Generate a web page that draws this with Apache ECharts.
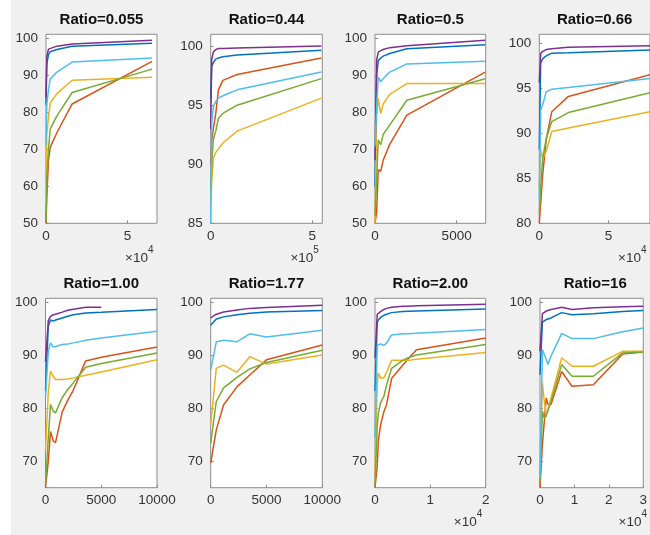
<!DOCTYPE html>
<html><head><meta charset="utf-8">
<script src="https://cdn.jsdelivr.net/npm/echarts@6/dist/echarts.min.js"></script>
<style>
html,body{margin:0;padding:0;background:#fff;}
#c{width:650px;height:535px;background:linear-gradient(to right,#fff 0,#fff 11px,#f0f0f0 11px);}
</style></head><body><div id="c"></div>
<script>
const titles = ['Ratio=0.055','Ratio=0.44','Ratio=0.5','Ratio=0.66','Ratio=1.00','Ratio=1.77','Ratio=2.00','Ratio=16'];

// Panel 1: Ratio=0.055
const x_p1 = [0, 500, 1500, 2600, 6700, 16000, 65000];
const blue_p1 = [82, 93, 95.5, 96.3, 96.9, 97.8, 98.6];
const red_p1 = [50, 57, 67, 70.5, 74.5, 82.2, 93.7];
const yellow_p1 = [61, 74, 78.5, 82.5, 85, 88.6, 89.4];
const purple_p1 = [84, 95, 97, 97.3, 97.8, 98.4, 99.4];
const green_p1 = [50.5, 62, 70, 75.5, 79, 85.3, 91.6];
const cyan_p1 = [71, 82, 86, 89, 90.8, 93.5, 94.6];

// Panel 2: Ratio=0.44
const x_p2 = [0, 5000, 13000, 25000, 38000, 60000, 130000, 545000];
const blue_p2 = [95.5, 98.3, 98.6, 98.9, 99.0, 99.1, 99.25, 99.66];
const red_p2 = [90, 92, 93, 94.3, 96.3, 97.1, 97.6, 99];
const yellow_p2 = [86.5, 88.5, 90.5, 91, 91.3, 91.8, 92.8, 95.6];
const purple_p2 = [93, 98.9, 99.5, 99.7, 99.8, 99.8, 99.85, 100];
const green_p2 = [87.5, 90, 92.1, 92.8, 93.9, 94.3, 95, 97.25];
const cyan_p2 = [85, 93.5, 94.9, 95.3, 95.6, 95.8, 96.3, 97.8];

// Panel 3: Ratio=0.5
const x_p3 = [0, 100, 200, 350, 500, 900, 1950, 6750];
const blue_p3 = [60, 90, 93.9, 94.6, 95.1, 95.8, 97.1, 98.2];
const red_p3 = [50, 53, 64.5, 64, 67, 71.3, 79.2, 90.8];
const yellow_p3 = [50, 78.8, 83.7, 79.6, 82.2, 84.8, 87.7, 87.7];
const purple_p3 = [67, 94, 96.2, 96.6, 96.9, 97.4, 97.9, 99.4];
const green_p3 = [52, 62, 72.5, 71.2, 74, 76.5, 83.2, 89];
const cyan_p3 = [70.7, 81.4, 89.5, 88.2, 89, 90.8, 93, 93.7];

// Panel 4: Ratio=0.66
const x_p4 = [0, 1000, 2500, 5000, 9000, 21000, 80000];
const blue_p4 = [88.2, 97.8, 98.3, 98.6, 98.9, 98.95, 99.26];
const red_p4 = [80, 80.2, 85.5, 89.3, 92.4, 94.1, 96.5];
const yellow_p4 = [84, 88.2, 87.2, 88, 90.2, 90.6, 92.4];
const purple_p4 = [95.6, 98.9, 99.1, 99.3, 99.4, 99.56, 99.74];
const green_p4 = [81, 84, 87.3, 89.4, 91.3, 92.3, 94.5];
const cyan_p4 = [82.7, 92.6, 93.2, 94.6, 94.9, 95.1, 96.1];

// Panel 5: Ratio=1.00
const x_p5 = [0, 250, 450, 700, 900, 1500, 2000, 2500, 3600, 5000, 10000];
const blue_p5 = [83.2, 95.4, 96.6, 96.4, 96.6, 97, 97.3, 97.6, 97.95, 98.05, 98.6];
const red_p5 = [65, 70, 75.6, 73.8, 73.5, 79.3, 81.5, 83.4, 88.9, 89.6, 91.5];
const yellow_p5 = [71.9, 83, 87, 86, 85.4, 85.4, 85.5, 85.7, 86.2, 86.8, 89.1];
const purple_p5 = [88.8, 96.5, 97.3, 97.6, 97.7, 98.1, 98.45, 98.65, 99, 99];
const green_p5 = [65.6, 74.4, 80.7, 79.4, 79.1, 82, 83.5, 84.8, 87.7, 88.4, 90.4];
const cyan_p5 = [81.9, 90.7, 92.3, 91.5, 91.6, 92, 92.1, 92.3, 92.8, 93.2, 94.5];

// Panel 6: Ratio=1.77
const x_p6 = [0, 500, 1150, 2350, 3500, 5000, 10000];
const blue_p6 = [95.6, 96.8, 97.2, 97.6, 97.9, 98.1, 98.4];
const red_p6 = [69.7, 75.9, 80.6, 84, 86.25, 89.1, 91.9];
const yellow_p6 = [76.9, 87.5, 88.1, 86.75, 89.7, 88.3, 90];
const purple_p6 = [97, 97.7, 98.1, 98.5, 98.8, 98.95, 99.4];
const green_p6 = [73.4, 81.25, 83.8, 85.8, 87.4, 88.6, 90.9];
const cyan_p6 = [87.2, 92.5, 92.8, 92.5, 94, 93.4, 94.7];

// Panel 7: Ratio=2.00
const x_p7 = [0, 400, 600, 1000, 1600, 2100, 3000, 5000, 6000, 7500, 20000];
const blue_p7 = [83.2, 96.2, 96.6, 97.1, 97.5, 97.7, 98, 98.2, 98.25, 98.3, 98.7];
const red_p7 = [65, 69, 73.8, 76.8, 79.3, 80.7, 85.6, 88.1, 89.3, 91, 93.2];
const yellow_p7 = [68, 84.3, 86.6, 85.7, 85.7, 86.8, 89, 89, 89, 89.2, 90.5];
const purple_p7 = [89.5, 97.7, 97.9, 98.2, 98.6, 98.8, 99, 99.2, 99.2, 99.3, 99.6];
const green_p7 = [65.6, 76.5, 79, 81, 82.2, 84.4, 87.5, 89, 89.5, 90, 92];
const cyan_p7 = [74.4, 91.8, 92.1, 92.1, 91.8, 92.3, 93.8, 94, 94, 94.1, 94.8];

// Panel 8: Ratio=16
const x_p8 = [0, 700, 1200, 1800, 2300, 3200, 6300, 9300, 15500, 24000, 30000];
const blue_p8 = [86.3, 96.2, 96.5, 96.7, 96.9, 97, 98, 97.6, 97.8, 98.2, 98.4];
const red_p8 = [65, 73.1, 72.8, 81.9, 80.7, 80.7, 86.9, 84.1, 84.4, 90.2, 90.6];
const yellow_p8 = [70, 84.7, 81.6, 78.8, 79.8, 81.9, 89.5, 87.9, 87.9, 90.7, 90.7];
const purple_p8 = [90.7, 97.8, 98.1, 98.3, 98.4, 98.6, 99, 98.6, 98.9, 99.1, 99.2];
const green_p8 = [66, 79.4, 78.2, 78.5, 79.5, 81.25, 88.2, 86, 86, 90.4, 90.6];
const cyan_p8 = [66.9, 91, 90.2, 89.2, 88.2, 89.8, 94.1, 93.1, 93.1, 94.4, 95.1];

// Axis ranges and ticks
const xmax = [68000, 550000, 6780, 80000, 10000, 10000, 20000, 30000];
const ymin = [50, 85, 50, 80, 65, 65, 65, 65];
const ymax = [101, 101, 101, 101, 100.7, 100.7, 100.7, 100.7];
const xticks = [[0, 50000], [0, 500000], [0, 5000], [0, 50000], [0, 5000, 10000], [0, 5000, 10000], [0, 10000, 20000], [0, 10000, 20000, 30000]];
const xscale = [1e4, 1e5, 1, 1e4, 1, 1, 1e4, 1e4];
const xexp = ['4', '5', '', '4', '', '', '4', '4'];
const yticks = [[50, 60, 70, 80, 90, 100], [85, 90, 95, 100], [50, 60, 70, 80, 90, 100], [80, 85, 90, 95, 100], [70, 80, 90, 100], [70, 80, 90, 100], [70, 80, 90, 100], [70, 80, 90, 100]];

const X = [x_p1, x_p2, x_p3, x_p4, x_p5, x_p6, x_p7, x_p8];
const BLUE = [blue_p1, blue_p2, blue_p3, blue_p4, blue_p5, blue_p6, blue_p7, blue_p8];
const RED = [red_p1, red_p2, red_p3, red_p4, red_p5, red_p6, red_p7, red_p8];
const YELLOW = [yellow_p1, yellow_p2, yellow_p3, yellow_p4, yellow_p5, yellow_p6, yellow_p7, yellow_p8];
const PURPLE = [purple_p1, purple_p2, purple_p3, purple_p4, purple_p5, purple_p6, purple_p7, purple_p8];
const GREEN = [green_p1, green_p2, green_p3, green_p4, green_p5, green_p6, green_p7, green_p8];
const CYAN = [cyan_p1, cyan_p2, cyan_p3, cyan_p4, cyan_p5, cyan_p6, cyan_p7, cyan_p8];

// layout (pixels)
const LAYOUT = [
  [46, 34.3, 111, 189], [210.7, 34.3, 111.6, 189], [375, 34.3, 110.7, 189], [539.3, 34.3, 110.7, 189],
  [45.5, 298.3, 111.5, 189.4], [210.7, 298.3, 111.6, 189.4], [375, 298.3, 110.7, 189.4], [540, 298.3, 110.5, 189.4]
];
const FONT = '"Liberation Sans", Arial, Helvetica, sans-serif';
const COLORS = {blue: '#0072BD', red: '#D95319', yellow: '#EDB120', purple: '#7E2F8E', green: '#77AC30', cyan: '#4DBEEE'};
const SERIES_ORDER = [['blue', BLUE], ['red', RED], ['yellow', YELLOW], ['purple', PURPLE], ['green', GREEN], ['cyan', CYAN]];

const grids = [], xAxes = [], yAxes = [], series = [], titleArr = [], graphics = [];
for (let i = 0; i < 8; i++) {
  const [l, t, w, h] = LAYOUT[i];
  grids.push({left: l, top: t, width: w, height: h, show: true, backgroundColor: '#fff', borderColor: '#8c8c8c', borderWidth: 1, containLabel: false});
  const sc = xscale[i];
  xAxes.push({
    gridIndex: i, type: 'value', min: 0, max: xmax[i],
    axisLine: {show: false}, splitLine: {show: false},
    axisTick: {show: true, inside: true, length: 3, lineStyle: {color: '#8c8c8c'}, customValues: xticks[i]},
    axisLabel: {customValues: xticks[i], fontSize: 13.5, fontFamily: FONT, color: '#333', margin: 6,
      formatter: v => String(Math.round(v / sc * 1000) / 1000)}
  });
  yAxes.push({
    gridIndex: i, type: 'value', min: ymin[i], max: ymax[i],
    axisLine: {show: false}, splitLine: {show: false},
    axisTick: {show: true, inside: true, length: 3, lineStyle: {color: '#8c8c8c'}, customValues: yticks[i]},
    axisLabel: {customValues: yticks[i], fontSize: 13.5, fontFamily: FONT, color: '#333', margin: 8}
  });
  titleArr.push({text: titles[i], left: l + w / 2, top: t - 22, textAlign: 'center', padding: 0,
    textStyle: {fontSize: 15, fontWeight: 'bold', fontFamily: FONT, color: '#111'}});
  SERIES_ORDER.forEach(([name, arr]) => {
    const ys = arr[i];
    series.push({
      type: 'line', name: name, xAxisIndex: i, yAxisIndex: i,
      data: ys.map((y, j) => [X[i][j], y]),
      showSymbol: false, symbol: 'none', animation: false, clip: true,
      lineStyle: {color: COLORS[name], width: 1.5}, itemStyle: {color: COLORS[name]}
    });
  });
  if (xexp[i]) {
    const r = l + w;
    const b = t + h;
    graphics.push({type: 'text', x: r - 9, y: b + 35, style: {text: '\u00d710', fontSize: 13.5, fontFamily: FONT, fill: '#333', align: 'right', verticalAlign: 'middle'}});
    graphics.push({type: 'text', x: r - 9, y: b + 27, style: {text: xexp[i], fontSize: 10, fontFamily: FONT, fill: '#333', align: 'left', verticalAlign: 'middle'}});
  }
}

const chart = echarts.init(document.getElementById('c'), null, {renderer: 'canvas'});
chart.setOption({
  backgroundColor: 'transparent',
  animation: false,
  title: titleArr,
  grid: grids, xAxis: xAxes, yAxis: yAxes, series: series, graphic: graphics
});
</script></body></html>
